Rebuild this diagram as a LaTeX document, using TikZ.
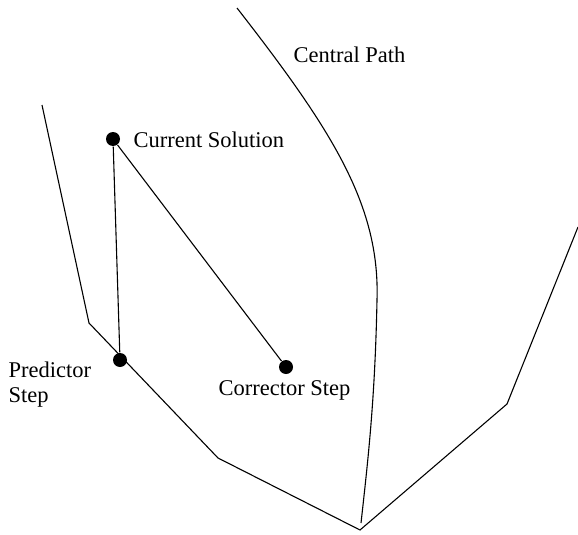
\documentclass[tikz,border=0pt]{standalone}
\usepackage{fontspec}
\setmainfont{Liberation Serif}
\newfontfamily\lblfont{Liberation Serif}
\usepackage{tikz}

\begin{document}
\begin{tikzpicture}[x=1pt,y=-1pt,line width=1.1pt,
        dot/.style={circle,fill,inner sep=0pt,minimum size=14pt},
        lbl/.style={anchor=base west,inner sep=0pt,font=\lblfont\fontsize{22.5}{25}\selectfont}]
        \useasboundingbox (0,0) rectangle (578,535);

        % feasible region
        \draw (42,105) -- (89,323) -- (218,458) -- (360,530) -- (507,404) -- (578,227);

        % central path
        \draw (237,8) .. controls (332,130) and (380,205) .. (377,300)
                      .. controls (375,400) and (368,460) .. (361,523);

        \node[dot] (C) at (113,139) {};
        \node[dot] (P) at (120,360) {};
        \node[dot] (K) at (286,367) {};

        \draw (C) -- (P);
        \draw (C) -- (K);

        \node[lbl] (cp) at (293,63) {Central Path};
        \node[lbl] (cs) at (133,147) {Current Solution};
        \node[lbl,align=left] (ps) at (8,402) {Predictor\\Step};
        \node[lbl] (ks) at (218,395) {Corrector Step};
    \end{tikzpicture}
\end{document}
